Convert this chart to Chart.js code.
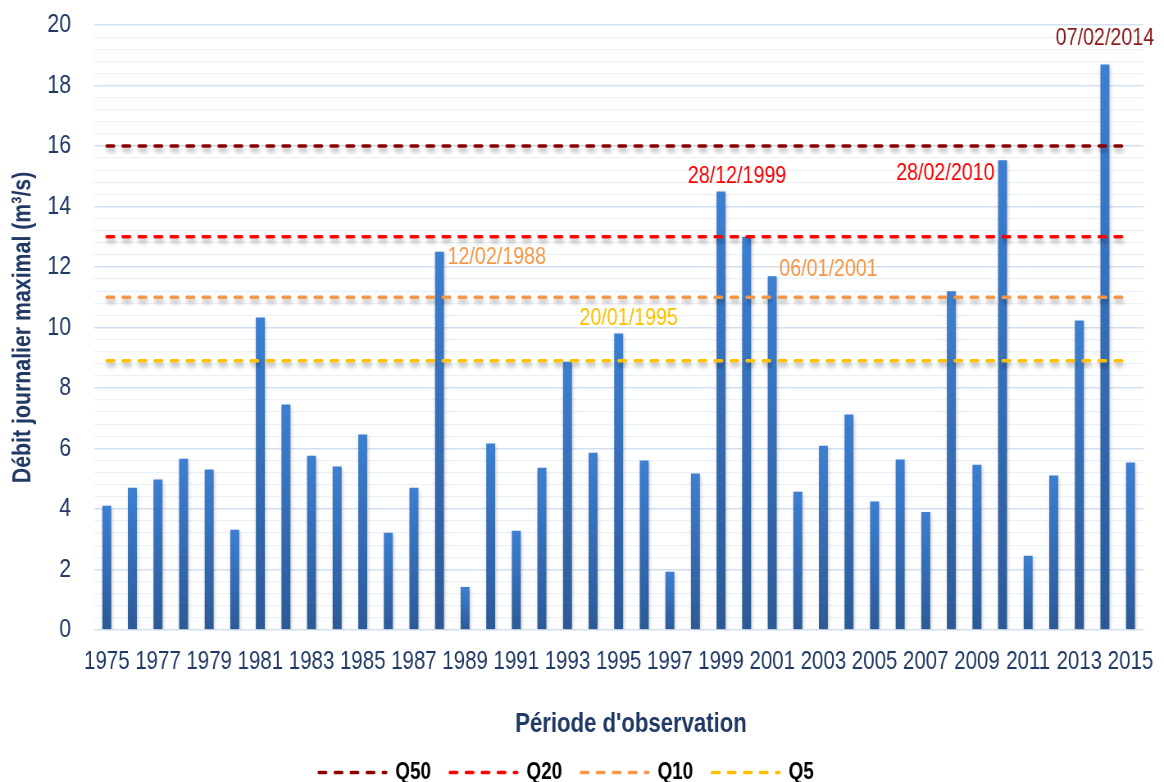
<!DOCTYPE html>
<html lang="fr">
<head>
<meta charset="utf-8">
<title>Débit journalier maximal</title>
<script src="https://cdn.jsdelivr.net/npm/chart.js@4.4.1/dist/chart.umd.min.js"></script>
<style>
  html, body { margin: 0; padding: 0; background: #ffffff; overflow: hidden; }
  #wrap { position: relative; width: 1164px; height: 782px; overflow: hidden; }
  /* The canvas is drawn wider and squeezed horizontally so that every text gets a narrow face */
  #chart { position: absolute; left: 0; top: 0; transform-origin: 0 0; }
</style>
</head>
<body>
<div id="wrap"><canvas id="chart"></canvas></div>
<script>
// Années d'observation
const years = [
  1975, 1976, 1977, 1978, 1979, 1980, 1981, 1982, 1983, 1984,
  1985, 1986, 1987, 1988, 1989, 1990, 1991, 1992, 1993, 1994,
  1995, 1996, 1997, 1998, 1999, 2000, 2001, 2002, 2003, 2004,
  2005, 2006, 2007, 2008, 2009, 2010, 2011, 2012, 2013, 2014, 2015
];

// Débit journalier maximal annuel (m³/s)
const maxDailyFlow = [
  4.1, 4.7, 4.97, 5.66, 5.3, 3.31, 10.33, 7.45, 5.76, 5.4,
  6.46, 3.21, 4.7, 12.5, 1.42, 6.16, 3.28, 5.36, 8.87, 5.86,
  9.8, 5.6, 1.92, 5.17, 14.5, 13.0, 11.69, 4.57, 6.09, 7.12,
  4.24, 5.63, 3.9, 11.2, 5.46, 15.53, 2.45, 5.1, 10.23, 18.7, 5.53
];

// Débits de période de retour (m³/s)
const returnNames = ['Q50', 'Q20', 'Q10', 'Q5'];
const returnValues = [16, 13, 11, 8.9];

// Crues remarquables : année et date de l'événement
const floodYears = [1988, 1995, 1999, 2001, 2010, 2014];
const floodDates = ['12/02/1988', '20/01/1995', '28/12/1999', '06/01/2001', '28/02/2010', '07/02/2014'];

// Page size and horizontal squeeze factor
const PAGE_W = 1164, PAGE_H = 782;
const CANVAS_W = 1420;
const SX = PAGE_W / CANVAS_W;
const px = v => v / SX;          // page-space horizontal length -> canvas units

const canvas = document.getElementById('chart');
canvas.width = CANVAS_W;
canvas.height = PAGE_H;
canvas.style.width = CANVAS_W + 'px';
canvas.style.height = PAGE_H + 'px';
canvas.style.transform = 'scaleX(' + SX + ')';

// Style
const NAVY = '#1f3864';
const FONT = '"Liberation Sans", Arial, sans-serif';
const lineColors = ['#8b0000', '#ff0000', '#f79646', '#ffc000'];
const DASH = [px(7), px(9)];
const CLEAR = 'rgba(0,0,0,0)';
const floodStyle = {
  1988: { color: '#f79646', align: 'left',   dx: 8,  dy: 6 },
  1995: { color: '#ffc000', align: 'center', dx: 10, dy: -15 },
  1999: { color: '#ff0000', align: 'center', dx: 16, dy: -15 },
  2001: { color: '#f79646', align: 'left',   dx: 7,  dy: -7 },
  2010: { color: '#ff0000', align: 'right',  dx: -8, dy: 13 },
  2014: { color: '#8b1a1a', align: 'center', dx: 0,  dy: -26 }
};

const isMajor = v => Math.abs(v - Math.round(v / 2) * 2) < 1e-6;

// Dégradé vertical propre à chaque barre
function barGradient(ctx) {
  const chart = ctx.chart;
  if (ctx.type !== 'data' || !chart.chartArea) return '#3a78c9';
  const ys = chart.scales.y;
  const top = ys.getPixelForValue(ctx.raw);
  const bottom = ys.getPixelForValue(0);
  const g = chart.ctx.createLinearGradient(0, top, 0, bottom);
  g.addColorStop(0, '#3d7fd2');
  g.addColorStop(1, '#2d5a96');
  return g;
}

// Ombre portée sous les barres et les lignes de référence
const shadowPlugin = {
  id: 'shadows',
  beforeDatasetDraw(chart, args) {
    const ctx = chart.ctx;
    ctx.save();
    if (args.meta.type === 'line') {
      ctx.shadowColor = 'rgba(0,0,0,0.30)';
      ctx.shadowBlur = 4;
      ctx.shadowOffsetX = 1;
      ctx.shadowOffsetY = 4;
    } else {
      ctx.shadowColor = 'rgba(0,0,0,0.22)';
      ctx.shadowBlur = 4;
      ctx.shadowOffsetX = 1;
      ctx.shadowOffsetY = 2;
    }
  },
  afterDatasetDraw(chart) {
    chart.ctx.restore();
  }
};

// Titres des axes et dates des crues remarquables
const textPlugin = {
  id: 'texts',
  afterDatasetsDraw(chart) {
    const ctx = chart.ctx;
    const area = chart.chartArea;
    const meta = chart.getDatasetMeta(0);

    ctx.save();
    ctx.font = '24px ' + FONT;
    ctx.textBaseline = 'middle';
    floodYears.forEach((yr, i) => {
      const el = meta.data[years.indexOf(yr)];
      const st = floodStyle[yr];
      ctx.fillStyle = st.color;
      ctx.textAlign = st.align;
      ctx.fillText(floodDates[i], el.x + px(st.dx), el.y + st.dy);
    });
    ctx.restore();

    // x-axis title
    ctx.save();
    ctx.font = 'bold 27px ' + FONT;
    ctx.fillStyle = NAVY;
    ctx.textAlign = 'center';
    ctx.textBaseline = 'middle';
    ctx.fillText("Période d'observation", px(631), 725);
    ctx.restore();

    // y-axis title, rotated; the extra scale keeps its glyphs narrow once squeezed
    ctx.save();
    ctx.translate(px(23), (area.top + area.bottom) / 2);
    ctx.rotate(-Math.PI / 2);
    ctx.scale(SX, 1 / SX);
    ctx.font = 'bold 26px ' + FONT;
    ctx.fillStyle = NAVY;
    ctx.textAlign = 'center';
    ctx.textBaseline = 'middle';
    ctx.fillText('Débit journalier maximal (m³/s)', 0, 0);
    ctx.restore();
  }
};

// Décalage horizontal de la légende
const legendShift = {
  id: 'legendShift',
  afterLayout(chart) {
    const lg = chart.legend;
    if (lg) { lg.left -= px(14); lg.right -= px(14); }
  }
};

const datasets = [{
  type: 'bar',
  label: 'Débit journalier maximal',
  data: maxDailyFlow,
  backgroundColor: barGradient,
  categoryPercentage: 1,
  barPercentage: 0.35,
  order: 1
}];
returnNames.forEach((name, i) => {
  datasets.push({
    type: 'line',
    label: name,
    data: years.map(() => returnValues[i]),
    borderColor: lineColors[i],
    backgroundColor: lineColors[i],
    borderWidth: 3.5,
    borderDash: DASH,
    borderCapStyle: 'round',
    pointRadius: 0,
    pointHoverRadius: 0,
    fill: false,
    order: 0
  });
});

new Chart(canvas, {
  data: { labels: years.map(String), datasets },
  options: {
    responsive: false,
    animation: false,
    devicePixelRatio: 1,
    layout: { padding: { left: 0, right: 4, top: 13, bottom: -12 } },
    plugins: {
      tooltip: { enabled: false },
      legend: {
        position: 'bottom',
        labels: {
          usePointStyle: true,
          pointStyle: 'line',
          pointStyleWidth: px(67),
          boxHeight: 4,
          padding: px(19),
          color: '#000000',
          font: { family: FONT, size: 23, weight: 'bold' },
          generateLabels(chart) {
            const base = Chart.defaults.plugins.legend.labels.generateLabels(chart);
            return base
              .filter(item => returnNames.includes(item.text))
              .map(item => {
                const ds = chart.data.datasets[item.datasetIndex];
                return Object.assign(item, {
                  lineDash: ds.borderDash,
                  lineCap: 'round',
                  lineWidth: ds.borderWidth,
                  strokeStyle: ds.borderColor,
                  fillStyle: ds.borderColor
                });
              });
          }
        }
      }
    },
    scales: {
      x: {
        offset: true,
        afterFit: s => { s.height = 108; },
        grid: { display: false, drawTicks: true, tickLength: 4, tickColor: CLEAR },
        border: { display: false },
        ticks: {
          autoSkip: false,
          maxRotation: 0,
          padding: 13,
          color: NAVY,
          font: { family: FONT, size: 25 },
          callback: (v, i) => (i % 2 === 0 ? years[i] : '')
        }
      },
      y: {
        min: 0,
        max: 20,
        afterFit: s => { s.width = px(94); },
        grid: {
          drawTicks: true,
          tickLength: px(23) - 9.5,
          tickColor: CLEAR,
          color: c => (isMajor(c.tick.value) ? '#d3e0f1' : '#ecf1f8'),
          lineWidth: c => (isMajor(c.tick.value) ? 1.6 : 1.3)
        },
        border: { display: false },
        ticks: {
          stepSize: 0.4,
          autoSkip: false,
          padding: 9.5,
          color: NAVY,
          font: { family: FONT, size: 26 },
          callback: v => (isMajor(v) ? String(Math.round(v)) : '')
        }
      }
    }
  },
  plugins: [shadowPlugin, textPlugin, legendShift]
});
</script>
</body>
</html>
